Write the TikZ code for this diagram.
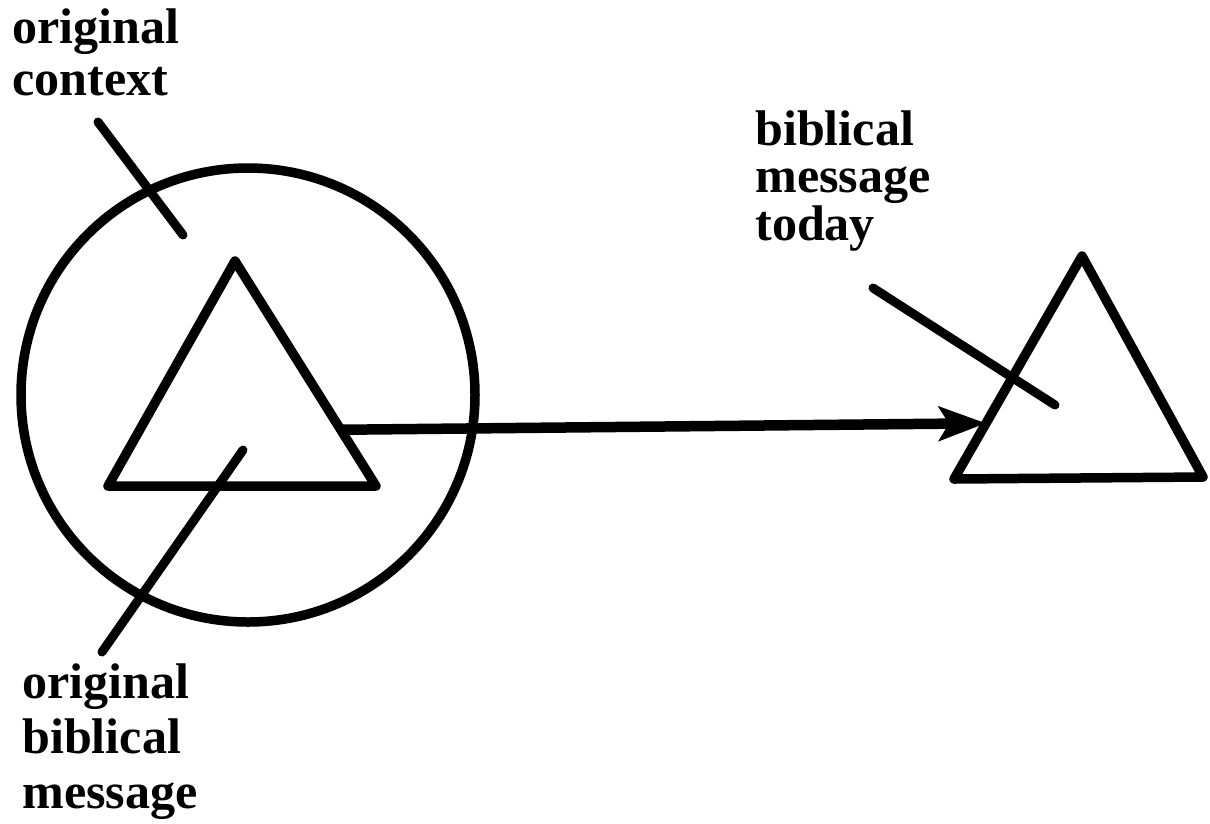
\documentclass[tikz,border=0pt]{standalone}
\usepackage{fontspec}
\setmainfont{Liberation Serif}
\usetikzlibrary{arrows.meta,calc}

\tikzset{
  lbl/.style={font=\fontsize{28.5}{#1}\selectfont\bfseries, align=left,
    inner sep=0pt, anchor=north west},
  thk/.style={line width=1.9mm, line join=round},
  lead/.style={line width=1.8mm, line cap=round},
}

\begin{document}
\begin{tikzpicture}[x=0.2mm,y=-0.2mm]
  \useasboundingbox (0,0) rectangle (1210,823);
  % the original message inside its context
  \draw[thk] (248,395) circle [radius=227];
  \coordinate (oa) at (235,261);
  \coordinate (ol) at (108,486);
  \coordinate (or) at (376,486);
  \draw[thk] (oa) -- (ol) -- (or) -- cycle;
  % the message today
  \coordinate (ta) at (1082,256);
  \coordinate (tl) at (954,479);
  \coordinate (tr) at (1203,477);
  \draw[thk] (ta) -- (tl) -- (tr) -- cycle;
  % transfer
  \coordinate (src) at ($(oa)!0.75!(or)$);
  \coordinate (dst) at ($(ta)!0.75!(tl)$);
  \draw[line width=2.1mm,-{Stealth[length=9.4mm,width=6.8mm,inset=2mm]}] (src) -- (dst);
  % labels with leader lines
  \node[lbl=29.6] (ctx) at (12,8) {original\\context};
  \coordinate (ctxa) at (98,122);
  \coordinate (ctxb) at (183,235);
  \draw[lead] (ctxa) -- (ctxb);
  \node[lbl=27] (today) at (755,110) {biblical\\message\\today};
  \coordinate (tda) at (873,288);
  \coordinate (tdb) at (1055,405);
  \draw[lead] (tda) -- (tdb);
  \node[lbl=31.3] (orig) at (22,663) {original\\biblical\\message};
  \coordinate (oga) at (243,450);
  \coordinate (ogb) at (102,652);
  \draw[lead] (oga) -- (ogb);
\end{tikzpicture}
\end{document}
